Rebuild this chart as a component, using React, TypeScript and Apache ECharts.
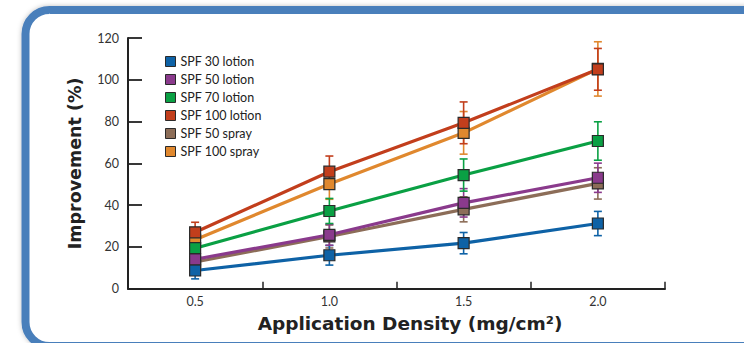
import React, { useEffect, useRef } from "react";
import * as echarts from "echarts";

const categories = ["0.5", "1.0", "1.5", "2.0"];
const yTicks = [0, 20, 40, 60, 80, 100, 120];

const seriesNames = ["SPF 30 lotion", "SPF 50 lotion", "SPF 70 lotion", "SPF 100 lotion", "SPF 50 spray", "SPF 100 spray"];
const seriesColors = ["#0e62a6", "#8a3a8c", "#0aa044", "#c23e1c", "#8c6d58", "#e0882e"];

const spf30Lotion = [8.7, 16.0, 21.8, 31.2];
const spf30LotionErr = [4.0, 4.7, 5.1, 5.8];
const spf50Lotion = [14.1, 25.8, 41.1, 53.1];
const spf50LotionErr = [4.0, 5.0, 6.8, 7.0];
const spf70Lotion = [19.4, 37.2, 54.4, 70.7];
const spf70LotionErr = [4.0, 6.0, 7.7, 9.2];
const spf100Lotion = [27.0, 56.0, 79.4, 105.0];
const spf100LotionErr = [4.8, 7.5, 10.0, 10.0];
const spf50Spray = [12.8, 25.0, 38.0, 50.4];
const spf50SprayErr = [4.0, 5.5, 6.0, 7.5];
const spf100Spray = [23.4, 50.1, 74.6, 105.2];
const spf100SprayErr = [4.0, 7.3, 10.2, 13.0];

const allValues = [spf30Lotion, spf50Lotion, spf70Lotion, spf100Lotion, spf50Spray, spf100Spray];
const allErrors = [spf30LotionErr, spf50LotionErr, spf70LotionErr, spf100LotionErr, spf50SprayErr, spf100SprayErr];
// drawing order (back to front)
const zOrder = [4, 5, 0, 1, 2, 3];

const FONT = "Lato, 'Open Sans', sans-serif";
const TITLE_FONT = "'DejaVu Sans', Lato, sans-serif";

export default function App() {
  const ref = useRef<HTMLDivElement>(null);
  useEffect(() => {
    if (!ref.current) return;
    const chart = echarts.init(ref.current, null, { renderer: "svg" });
    const series: any[] = [];
    zOrder.forEach((i, k) => {
      const color = seriesColors[i];
      series.push({
        type: "custom",
        name: seriesNames[i] + " err",
        z: 2 + k * 0.1,
        silent: true,
        data: allValues[i].map((v, j) => [j, v - allErrors[i][j], v + allErrors[i][j]]),
        renderItem: (params: any, api: any) => {
          const lo = api.coord([api.value(0), api.value(1)]);
          const hi = api.coord([api.value(0), api.value(2)]);
          const hw = 4;
          const st = { stroke: color, lineWidth: 1.6 };
          return {
            type: "group",
            children: [
              { type: "line", shape: { x1: lo[0], y1: lo[1], x2: hi[0], y2: hi[1] }, style: st },
              { type: "line", shape: { x1: lo[0] - hw, y1: lo[1], x2: lo[0] + hw, y2: lo[1] }, style: st },
              { type: "line", shape: { x1: hi[0] - hw, y1: hi[1], x2: hi[0] + hw, y2: hi[1] }, style: st },
            ],
          };
        },
      });
    });
    zOrder.forEach((i, k) => {
      series.push({
        type: "line",
        name: seriesNames[i],
        data: allValues[i],
        z: 3 + k * 0.1,
        symbol: "rect",
        symbolSize: 11,
        showSymbol: true,
        lineStyle: { color: seriesColors[i], width: 3.2 },
        itemStyle: { color: seriesColors[i], borderColor: "#2a2a2a", borderWidth: 1.2 },
      });
    });
    chart.setOption({
      animation: false,
      backgroundColor: "#ffffff",
      textStyle: { fontFamily: FONT },
      graphic: [
        {
          type: "rect",
          z: -10,
          shape: { x: 25.5, y: 10, width: 800, height: 336, r: 24 },
          style: {
            fill: "#ffffff",
            stroke: "#4a7fbb",
            lineWidth: 8,
            shadowBlur: 5,
            shadowColor: "rgba(0,0,0,0.25)",
          },
        },
      ],
      legend: {
        data: seriesNames,
        orient: "vertical",
        left: 160,
        top: 50,
        icon: "rect",
        itemWidth: 10,
        itemHeight: 10,
        itemGap: 5,
        itemStyle: { borderColor: "#2a2a2a", borderWidth: 1 },
        textStyle: { fontFamily: FONT, fontSize: 12.5, color: "#222" },
        selectedMode: false,
      },
      grid: { left: 128, right: 79, top: 38, bottom: 54.3, containLabel: false },
      xAxis: {
        type: "category",
        data: categories,
        boundaryGap: true,
        name: "Application Density (mg/cm²)",
        nameLocation: "middle",
        nameGap: 25,
        nameTextStyle: { fontFamily: TITLE_FONT, fontSize: 18.5, fontWeight: "bold", color: "#222", padding: [0, 0, 0, 27] },
        axisLine: { lineStyle: { color: "#222", width: 2 } },
        axisTick: { show: true, inside: true, length: 7, lineStyle: { color: "#222", width: 1.5 } },
        axisLabel: { fontFamily: FONT, fontSize: 12.5, color: "#333", margin: 6 },
        splitLine: { show: false },
      },
      yAxis: {
        type: "value",
        min: yTicks[0],
        max: yTicks[yTicks.length - 1],
        interval: 20,
        name: "Improvement (%)",
        nameLocation: "middle",
        nameGap: 44,
        nameTextStyle: { fontFamily: TITLE_FONT, fontSize: 17.5, fontWeight: "bold", color: "#222" },
        axisLine: { show: true, lineStyle: { color: "#222", width: 2 } },
        axisTick: { show: true, inside: true, length: 14, lineStyle: { color: "#222", width: 1.8 } },
        axisLabel: { fontFamily: FONT, fontSize: 12.5, color: "#333", margin: 9 },
        splitLine: { show: false },
      },
      series,
    });
    return () => chart.dispose();
  }, []);
  return (
    <div
      ref={ref}
      style={{ position: "fixed", left: 0, top: 0, width: 744, height: 343, background: "#fff" }}
    />
  );
}
